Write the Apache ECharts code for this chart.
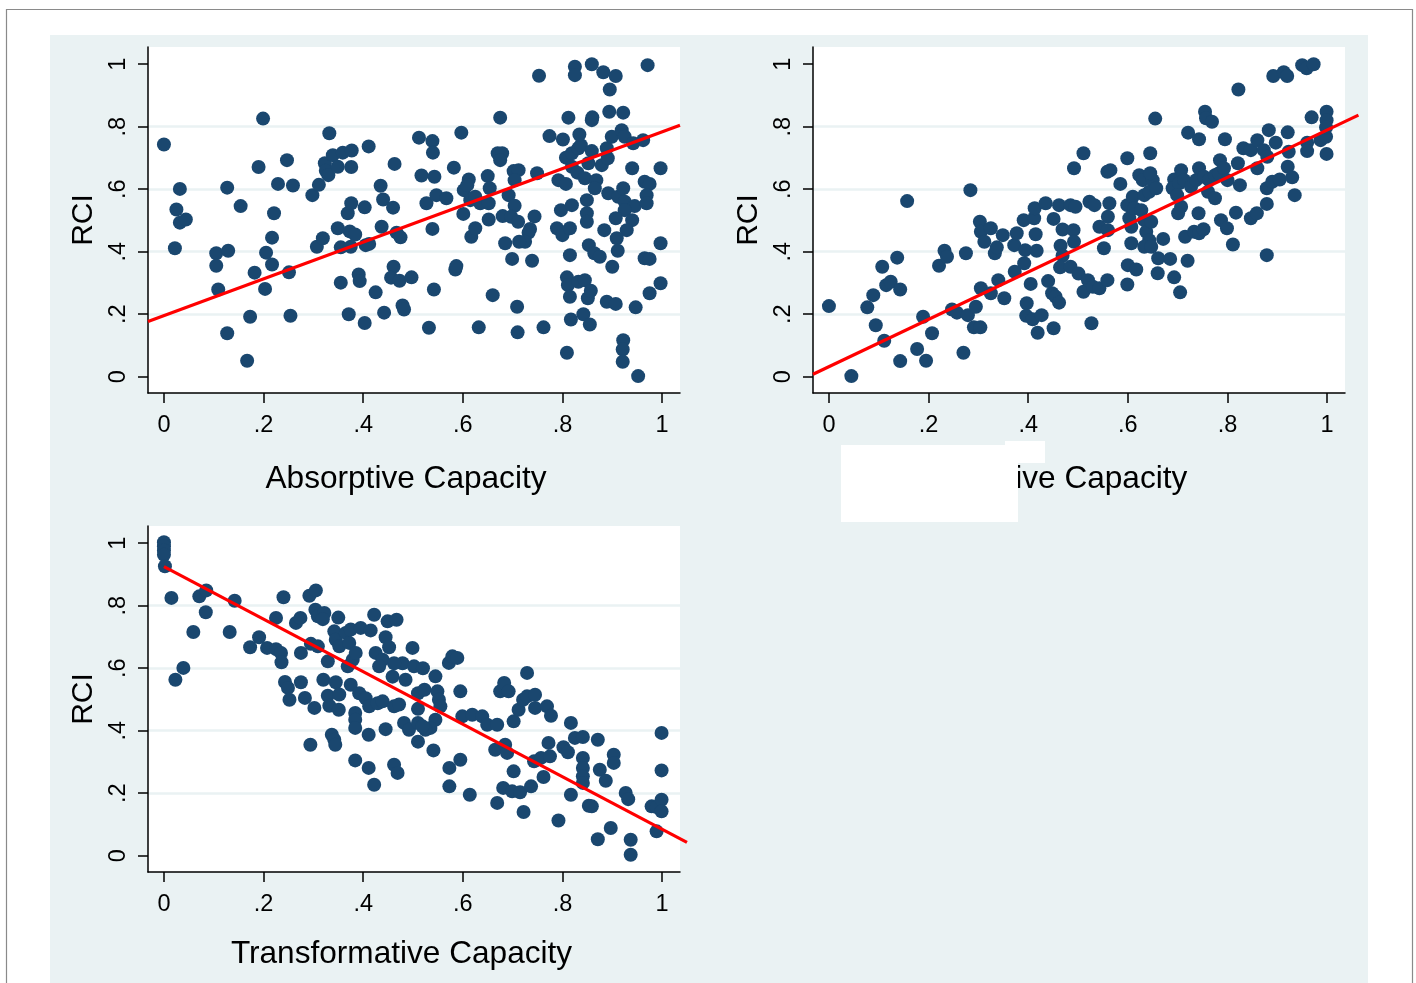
<!DOCTYPE html>
<html>
<head>
<meta charset="utf-8">
<script src="https://cdn.jsdelivr.net/npm/echarts@6/dist/echarts.min.js"></script>
<style>
html,body{margin:0;padding:0;background:#fff;}
#chart{width:1416px;height:983px;}
</style>
</head>
<body>
<div id="chart"></div>
<script>
// ---------- data ----------
const tickValues = [0, 0.2, 0.4, 0.6, 0.8, 1];
const yTitle = 'RCI';
const xTitles = ['Absorptive Capacity', 'Adaptive Capacity', 'Transformative Capacity'];

const absorptivePts = [
[0.0,0.743],[0.032,0.601],[0.025,0.535],[0.032,0.493],[0.044,0.503],[0.022,0.411],
[0.105,0.395],[0.105,0.355],[0.129,0.403],[0.109,0.279],[0.127,0.605],[0.154,0.546],[0.127,0.139],
[0.167,0.051],[0.173,0.192],[0.182,0.333],[0.203,0.281],[0.205,0.397],[0.217,0.359],[0.217,0.445],
[0.221,0.523],[0.229,0.617],[0.259,0.612],[0.19,0.671],[0.199,0.826],[0.247,0.693],[0.251,0.334],
[0.254,0.195],[0.298,0.581],[0.311,0.614],[0.323,0.683],[0.325,0.659],[0.33,0.645],[0.339,0.709],
[0.349,0.672],[0.359,0.717],[0.377,0.724],[0.376,0.671],[0.332,0.779],[0.349,0.475],[0.307,0.416],
[0.319,0.443],[0.355,0.414],[0.355,0.301],[0.371,0.2],[0.369,0.523],[0.376,0.555],[0.373,0.465],
[0.384,0.455],[0.375,0.416],[0.391,0.327],[0.393,0.306],[0.403,0.542],[0.403,0.172],[0.405,0.421],
[0.412,0.425],[0.411,0.737],[0.425,0.27],
[0.435,0.611],[0.44,0.567],[0.437,0.48],[0.46,0.541],[0.463,0.681],[0.467,0.461],[0.475,0.446],
[0.461,0.352],[0.456,0.317],[0.473,0.307],[0.497,0.318],[0.442,0.205],[0.479,0.228],[0.482,0.215],
[0.512,0.765],[0.539,0.754],[0.54,0.717],[0.517,0.644],[0.543,0.64],[0.527,0.555],[0.547,0.581],
[0.567,0.571],[0.539,0.473],[0.542,0.279],[0.532,0.157],[0.597,0.781],[0.582,0.669],[0.602,0.597],
[0.612,0.631],[0.609,0.613],[0.615,0.565],[0.625,0.576],[0.635,0.555],[0.601,0.521],[0.617,0.448],
[0.625,0.475],[0.585,0.343],[0.587,0.354],[0.632,0.158],[0.65,0.642],[0.654,0.603],[0.652,0.555],
[0.652,0.503],[0.66,0.261],[0.675,0.829],[0.67,0.715],[0.679,0.715],[0.675,0.693],[0.702,0.658],
[0.712,0.661],[0.704,0.629],[0.749,0.651],[0.692,0.581],[0.704,0.547],[0.68,0.514],[0.697,0.512],
[0.711,0.496],[0.744,0.513],[0.735,0.473],[0.732,0.461],[0.725,0.432],[0.685,0.427],[0.713,0.432],
[0.699,0.377],[0.739,0.371],[0.709,0.224],[0.71,0.142],[0.762,0.158],[0.753,0.963],[0.774,0.77],
[0.801,0.759],[0.812,0.829],[0.807,0.701],[0.819,0.715],[0.832,0.731],[0.837,0.741],[0.834,0.775],
[0.859,0.821],[0.86,0.83],[0.859,0.722],[0.852,0.683],[0.819,0.672],[0.83,0.653],[0.792,0.629],
[0.807,0.617],[0.845,0.635],[0.868,0.629],[0.865,0.603],[0.879,0.677],[0.891,0.699],[0.889,0.731],
[0.899,0.768],[0.919,0.789],[0.925,0.768],[0.942,0.747],[0.962,0.757],[0.825,0.992],[0.825,0.965],
[0.859,1.0],[0.882,0.974],[0.907,0.962],[0.895,0.919],[0.894,0.848],[0.922,0.845],[0.971,0.997],
[0.94,0.667],[0.997,0.667],[0.892,0.587],[0.912,0.576],[0.922,0.603],[0.925,0.56],[0.945,0.546],
[0.965,0.624],[0.975,0.617],[0.969,0.581],[0.969,0.555],[0.925,0.533],[0.94,0.501],[0.929,0.469],
[0.907,0.507],[0.797,0.533],[0.819,0.549],[0.849,0.565],[0.849,0.523],[0.849,0.496],[0.789,0.475],
[0.8,0.453],[0.815,0.475],[0.884,0.469],[0.909,0.443],[0.911,0.403],[0.815,0.389],[0.853,0.421],
[0.864,0.395],[0.875,0.384],[0.9,0.352],[0.965,0.379],[0.975,0.377],[0.997,0.427],[0.809,0.318],
[0.811,0.293],[0.815,0.256],[0.832,0.304],[0.845,0.309],[0.851,0.251],[0.857,0.275],[0.889,0.24],
[0.907,0.233],[0.947,0.222],[0.975,0.267],[0.997,0.299],[0.817,0.183],[0.842,0.2],[0.855,0.167],
[0.809,0.077],[0.922,0.117],[0.921,0.087],[0.921,0.048],[0.952,0.002]
];

const adaptivePts = [
[0.0,0.226],[0.045,0.002],[0.077,0.222],[0.089,0.261],[0.094,0.165],[0.111,0.115],[0.107,0.352],
[0.115,0.293],[0.124,0.304],[0.143,0.279],[0.137,0.381],[0.157,0.562],[0.143,0.05],[0.177,0.089],
[0.195,0.051],[0.189,0.192],[0.207,0.139],[0.221,0.355],[0.232,0.403],[0.237,0.384],[0.247,0.215],
[0.257,0.205],[0.27,0.077],[0.275,0.395],[0.284,0.597],[0.279,0.197],[0.295,0.224],[0.291,0.158],
[0.304,0.158],[0.303,0.496],[0.305,0.464],[0.312,0.432],[0.325,0.475],[0.305,0.283],[0.325,0.267],
[0.333,0.395],[0.337,0.414],[0.34,0.309],[0.349,0.453],[0.352,0.251],[0.372,0.421],[0.373,0.336],
[0.392,0.363],[0.394,0.405],[0.417,0.403],[0.377,0.459],[0.391,0.501],[0.412,0.507],[0.413,0.539],
[0.435,0.555],[0.415,0.456],[0.405,0.297],[0.397,0.235],[0.396,0.195],[0.409,0.184],[0.427,0.197],
[0.419,0.141],[0.451,0.155],[0.44,0.306],[0.448,0.267],[0.455,0.256],[0.462,0.237],[0.451,0.505],
[0.462,0.549],[0.469,0.471],[0.465,0.419],[0.469,0.387],[0.464,0.35],[0.485,0.549],[0.495,0.544],
[0.491,0.469],[0.492,0.432],[0.485,0.352],[0.501,0.33],[0.511,0.272],[0.492,0.667],[0.511,0.715],
[0.523,0.56],[0.533,0.549],[0.52,0.309],[0.53,0.288],[0.543,0.283],[0.559,0.309],[0.527,0.171],
[0.543,0.48],[0.552,0.411],[0.56,0.512],[0.563,0.555],[0.56,0.469],[0.559,0.656],[0.565,0.661],
[0.585,0.617],[0.599,0.699],[0.599,0.549],[0.603,0.507],[0.607,0.48],[0.61,0.576],[0.613,0.539],
[0.607,0.427],[0.599,0.295],[0.6,0.357],[0.617,0.343],[0.623,0.645],[0.63,0.629],[0.633,0.581],
[0.643,0.592],[0.65,0.629],[0.657,0.603],[0.645,0.651],[0.645,0.715],[0.627,0.533],[0.633,0.501],
[0.637,0.464],[0.643,0.437],[0.647,0.496],[0.633,0.416],[0.647,0.416],[0.655,0.826],[0.661,0.379],
[0.66,0.331],[0.671,0.441],[0.685,0.377],[0.693,0.318],[0.705,0.27],[0.693,0.631],[0.69,0.603],
[0.707,0.661],[0.703,0.619],[0.699,0.581],[0.707,0.544],[0.701,0.523],[0.713,0.629],[0.727,0.608],
[0.737,0.629],[0.743,0.667],[0.753,0.64],[0.721,0.781],[0.743,0.76],[0.755,0.848],[0.757,0.827],
[0.769,0.816],[0.72,0.371],[0.715,0.448],[0.733,0.464],[0.743,0.459],[0.752,0.472],[0.742,0.523],
[0.763,0.629],[0.775,0.645],[0.785,0.693],[0.783,0.651],[0.793,0.667],[0.8,0.629],[0.761,0.592],
[0.775,0.571],[0.795,0.76],[0.787,0.501],[0.799,0.475],[0.811,0.423],[0.822,0.919],[0.817,0.525],
[0.825,0.613],[0.821,0.683],[0.832,0.731],[0.847,0.725],[0.86,0.757],[0.873,0.725],[0.883,0.789],
[0.86,0.667],[0.88,0.704],[0.897,0.749],[0.921,0.782],[0.847,0.507],[0.859,0.523],[0.879,0.553],
[0.879,0.603],[0.89,0.624],[0.905,0.631],[0.879,0.389],[0.892,0.962],[0.913,0.974],[0.92,0.962],
[0.921,0.672],[0.93,0.638],[0.923,0.72],[0.935,0.581],[0.95,0.997],[0.959,0.987],[0.973,1.0],
[0.96,0.749],[0.96,0.722],[0.969,0.83],[0.987,0.757],[0.998,0.768],[0.999,0.848],[0.999,0.821],
[0.999,0.713],[0.998,0.798]
];

const transformativePts = [
[0.0,1.003],[0.0,0.99],[0.0,0.977],[0.0,0.963],[0.002,0.926],[0.015,0.825],[0.023,0.563],
[0.039,0.601],[0.071,0.83],[0.085,0.849],[0.084,0.779],[0.059,0.716],[0.132,0.716],[0.142,0.816],
[0.173,0.667],[0.191,0.699],[0.207,0.665],[0.225,0.761],[0.225,0.661],[0.235,0.649],[0.236,0.619],
[0.24,0.827],[0.243,0.556],[0.249,0.537],[0.252,0.499],[0.265,0.745],[0.274,0.761],[0.275,0.649],
[0.275,0.555],[0.283,0.505],[0.292,0.832],[0.305,0.849],[0.295,0.678],[0.309,0.67],[0.294,0.355],
[0.302,0.473],[0.304,0.787],[0.309,0.766],[0.322,0.777],[0.319,0.757],[0.32,0.563],[0.329,0.512],
[0.332,0.48],[0.329,0.622],[0.337,0.387],[0.342,0.371],[0.344,0.355],[0.345,0.555],[0.352,0.516],
[0.351,0.467],[0.35,0.762],[0.342,0.718],[0.345,0.691],[0.352,0.67],[0.365,0.713],[0.372,0.681],
[0.375,0.724],[0.369,0.606],[0.379,0.627],[0.385,0.649],[0.375,0.547],[0.384,0.457],[0.384,0.435],
[0.384,0.409],[0.384,0.305],[0.395,0.729],[0.415,0.721],[0.392,0.52],[0.405,0.504],[0.412,0.478],
[0.429,0.488],[0.411,0.387],[0.411,0.281],[0.422,0.771],[0.422,0.227],[0.425,0.649],[0.439,0.627],
[0.432,0.606],[0.445,0.699],[0.452,0.667],[0.449,0.75],[0.467,0.755],[0.439,0.494],[0.445,0.405],
[0.462,0.478],[0.472,0.484],[0.462,0.291],[0.469,0.265],[0.482,0.425],[0.492,0.403],[0.479,0.616],
[0.485,0.563],[0.499,0.665],[0.502,0.606],[0.462,0.616],[0.459,0.573],
[0.51,0.425],[0.51,0.365],[0.51,0.47],[0.51,0.52],[0.52,0.6],[0.523,0.531],[0.545,0.574],
[0.549,0.526],[0.552,0.499],[0.555,0.478],[0.545,0.435],[0.535,0.409],[0.525,0.403],[0.519,0.414],
[0.541,0.337],[0.573,0.281],[0.573,0.222],[0.595,0.307],[0.572,0.617],[0.579,0.638],[0.589,0.633],
[0.595,0.526],[0.599,0.446],[0.619,0.451],[0.639,0.446],[0.649,0.419],[0.669,0.419],[0.614,0.195],
[0.669,0.169],[0.665,0.339],[0.685,0.355],[0.689,0.329],[0.675,0.526],[0.683,0.553],[0.692,0.526],
[0.702,0.43],[0.702,0.27],[0.681,0.217],[0.699,0.206],[0.715,0.203],[0.722,0.14],[0.737,0.222],
[0.712,0.467],[0.721,0.499],[0.729,0.51],[0.745,0.515],[0.745,0.473],[0.729,0.585],[0.769,0.478],
[0.777,0.448],[0.743,0.302],[0.757,0.313],[0.762,0.252],[0.772,0.361],[0.775,0.318],[0.792,0.113],
[0.802,0.347],[0.811,0.331],[0.817,0.425],[0.825,0.377],[0.841,0.38],[0.841,0.313],[0.841,0.281],
[0.841,0.254],[0.841,0.233],[0.817,0.195],[0.853,0.16],[0.859,0.158],[0.871,0.371],[0.875,0.275],
[0.887,0.24],[0.871,0.053],[0.897,0.089],[0.903,0.323],[0.903,0.297],[0.927,0.201],[0.932,0.181],
[0.937,0.051],[0.937,0.003],[0.979,0.158],[0.989,0.156],[0.989,0.078],[0.999,0.393],[0.999,0.273],
[0.999,0.179],[0.999,0.142]
];

// fitted lines (endpoints)
const absorptiveFitX = [-0.032, 1.036], absorptiveFitY = [0.177, 0.805];
const adaptiveFitX = [-0.032, 1.063],   adaptiveFitY = [0.008, 0.837];
const transformativeFitX = [0.0, 1.05], transformativeFitY = [0.925, 0.043];

// ---------- styling ----------
const NAVY = '#1a476f';
const BG = '#eaf2f3';
const FONT = 'Liberation Sans, Arial, sans-serif';
const X_RANGE = [-0.032, 1.036];
const Y_RANGE = [-0.052, 1.055];
const PLOT_W = 532, PLOT_H = 346;

const fmt = v => { const r = Math.round(v * 10) / 10; return r === 0 ? '0' : r === 1 ? '1' : String(r).replace(/^0\./, '.'); };

const plotGrids = [
  {left: 148, top: 47},
  {left: 813, top: 47},
  {left: 148, top: 526}
];
const xGaps = [70, 70, 66];
const xNameShift = [16, 38, 25]; // right padding -> moves the centred title left

// overflow grids: same origin and scale as plots but wider, so the fit lines may run past the frame like the original
const OVER_W = 560;
const OVER_MAX = X_RANGE[0] + (X_RANGE[1] - X_RANGE[0]) * OVER_W / PLOT_W;

const grids = plotGrids.map(g => ({left: g.left, top: g.top, width: PLOT_W, height: PLOT_H,
  show: true, backgroundColor: '#ffffff', borderWidth: 0}))
  .concat(plotGrids.map(g => ({left: g.left, top: g.top, width: OVER_W, height: PLOT_H, show: false})));

function xAxis(i) {
  return {
    gridIndex: i, type: 'value', min: X_RANGE[0], max: X_RANGE[1],
    name: xTitles[i], nameLocation: 'middle', nameGap: xGaps[i],
    nameTextStyle: {fontFamily: FONT, fontSize: 31.6, color: '#000', padding: [0, xNameShift[i], 0, 0]},
    axisLine: {show: true, onZero: false, lineStyle: {color: '#000', width: 1.5}},
    axisTick: {show: true, inside: false, length: 10, customValues: tickValues, lineStyle: {color: '#000', width: 1.5}},
    axisLabel: {show: true, customValues: tickValues, formatter: fmt, margin: 21,
      fontFamily: FONT, fontSize: 23.5, color: '#000'},
    splitLine: {show: false}
  };
}
function yAxis(i) {
  return {
    gridIndex: i, type: 'value', min: Y_RANGE[0], max: Y_RANGE[1],
    name: yTitle, nameLocation: 'middle', nameGap: 49, nameRotate: 90,
    nameTextStyle: {fontFamily: FONT, fontSize: 30, color: '#000'},
    axisLine: {show: true, onZero: false, lineStyle: {color: '#000', width: 1.5}},
    axisTick: {show: true, inside: false, length: 10, customValues: tickValues, lineStyle: {color: '#000', width: 1.5}},
    axisLabel: {show: true, customValues: tickValues, formatter: fmt, margin: 17, rotate: 90,
      fontFamily: FONT, fontSize: 23.5, color: '#000'},
    splitLine: {show: true, showMinLine: false, showMaxLine: false, lineStyle: {color: BG, width: 2.5}}
  };
}
function hiddenX(i) { return {gridIndex: 3 + i, type: 'value', min: X_RANGE[0], max: OVER_MAX, show: false, splitLine: {show: false}}; }
function hiddenY(i) { return {gridIndex: 3 + i, type: 'value', min: Y_RANGE[0], max: Y_RANGE[1], show: false, splitLine: {show: false}}; }

const ptsList = [absorptivePts, adaptivePts, transformativePts];
const fits = [[absorptiveFitX, absorptiveFitY], [adaptiveFitX, adaptiveFitY], [transformativeFitX, transformativeFitY]];

const series = [];
for (let i = 0; i < 3; i++) {
  series.push({
    type: 'scatter', xAxisIndex: i, yAxisIndex: i, data: ptsList[i],
    symbol: 'circle', symbolSize: 14, itemStyle: {color: NAVY, opacity: 1},
    silent: true, z: 2
  });
  series.push({
    type: 'line', xAxisIndex: 3 + i, yAxisIndex: 3 + i,
    data: fits[i][0].map((x, k) => [x, fits[i][1][k]]),
    showSymbol: false, symbol: 'none',
    lineStyle: {color: '#ff0000', width: 3.2}, silent: true, z: 3
  });
}

const chart = echarts.init(document.getElementById('chart'), null, {renderer: 'canvas'});
chart.setOption({
  backgroundColor: '#ffffff',
  animation: false,
  graphic: [
    {type: 'rect', z: -20, shape: {x: 6.5, y: 9.5, width: 1406, height: 1000}, style: {fill: '#ffffff', stroke: '#8a8a8a', lineWidth: 1.2}},
    {type: 'rect', z: -10, shape: {x: 50, y: 35, width: 1318, height: 960}, style: {fill: BG}},
    {type: 'rect', z: 100, shape: {x: 841, y: 445, width: 177, height: 77}, style: {fill: '#ffffff'}},
    {type: 'rect', z: 100, shape: {x: 1005, y: 441, width: 40, height: 22}, style: {fill: '#ffffff'}}
  ],
  grid: grids,
  xAxis: [0, 1, 2].map(xAxis).concat([0, 1, 2].map(hiddenX)),
  yAxis: [0, 1, 2].map(yAxis).concat([0, 1, 2].map(hiddenY)),
  series: series
});
</script>
</body>
</html>
